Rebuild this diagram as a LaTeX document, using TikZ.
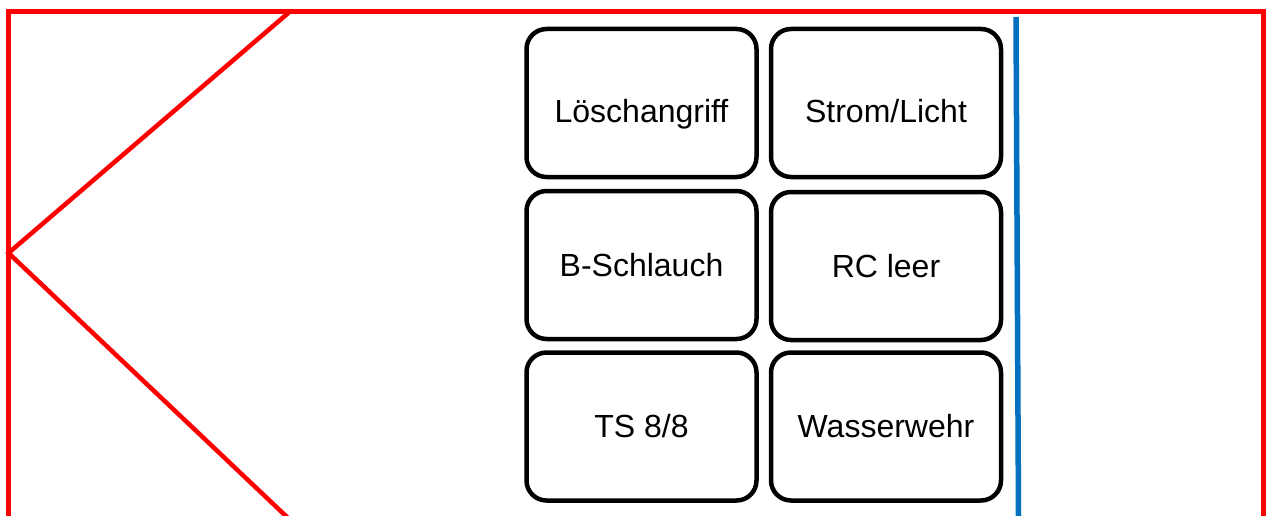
\documentclass[tikz,border=0pt]{standalone}
\usepackage{fontspec}
\setmainfont{Liberation Sans}
\definecolor{framered}{RGB}{255,0,0}
\definecolor{lineblue}{RGB}{0,112,192}
\begin{document}
\begin{tikzpicture}[x=1pt,y=-1pt,
  card/.style={draw=black, line width=4.5pt, rounded corners=20pt, fill=white,
    minimum width=230pt, minimum height=148pt, inner sep=0pt,
    font=\fontsize{32}{36}\selectfont, text height=22.9pt, text depth=0pt},
  lowtext/.style={text height=39pt},
  redline/.style={draw=framered, line width=4.5pt, line join=miter},
  blueline/.style={draw=lineblue, line width=5.5pt}]
\useasboundingbox (0,0) rectangle (1266,516);
% red frame and arrow shape
\draw[redline] (8.5,518) -- (8.5,11.5) -- (1263.5,11.5) -- (1263.5,518);
\coordinate (tip) at (8.5,253);
\coordinate (ta) at (290,11.5);
\coordinate (tb) at (288,518);
\draw[redline] (ta) -- (tip) -- (tb);
% blue line
\coordinate (b1) at (1016,17);
\coordinate (b2) at (1018.5,518);
\draw[blueline] (b1) -- (b2);
% cards
\node[card, lowtext] (loesch) at (641.5,103) {Löschangriff};
\node[card, lowtext] (strom) at (886,103) {Strom/Licht};
\node[card] (bschl) at (641.5,265) {B-Schlauch};
\node[card] (rc) at (886,266) {RC leer};
\node[card] (ts) at (641.5,426.5) {TS 8/8};
\node[card] (wasser) at (886,426.5) {Wasserwehr};
\end{tikzpicture}
\end{document}
